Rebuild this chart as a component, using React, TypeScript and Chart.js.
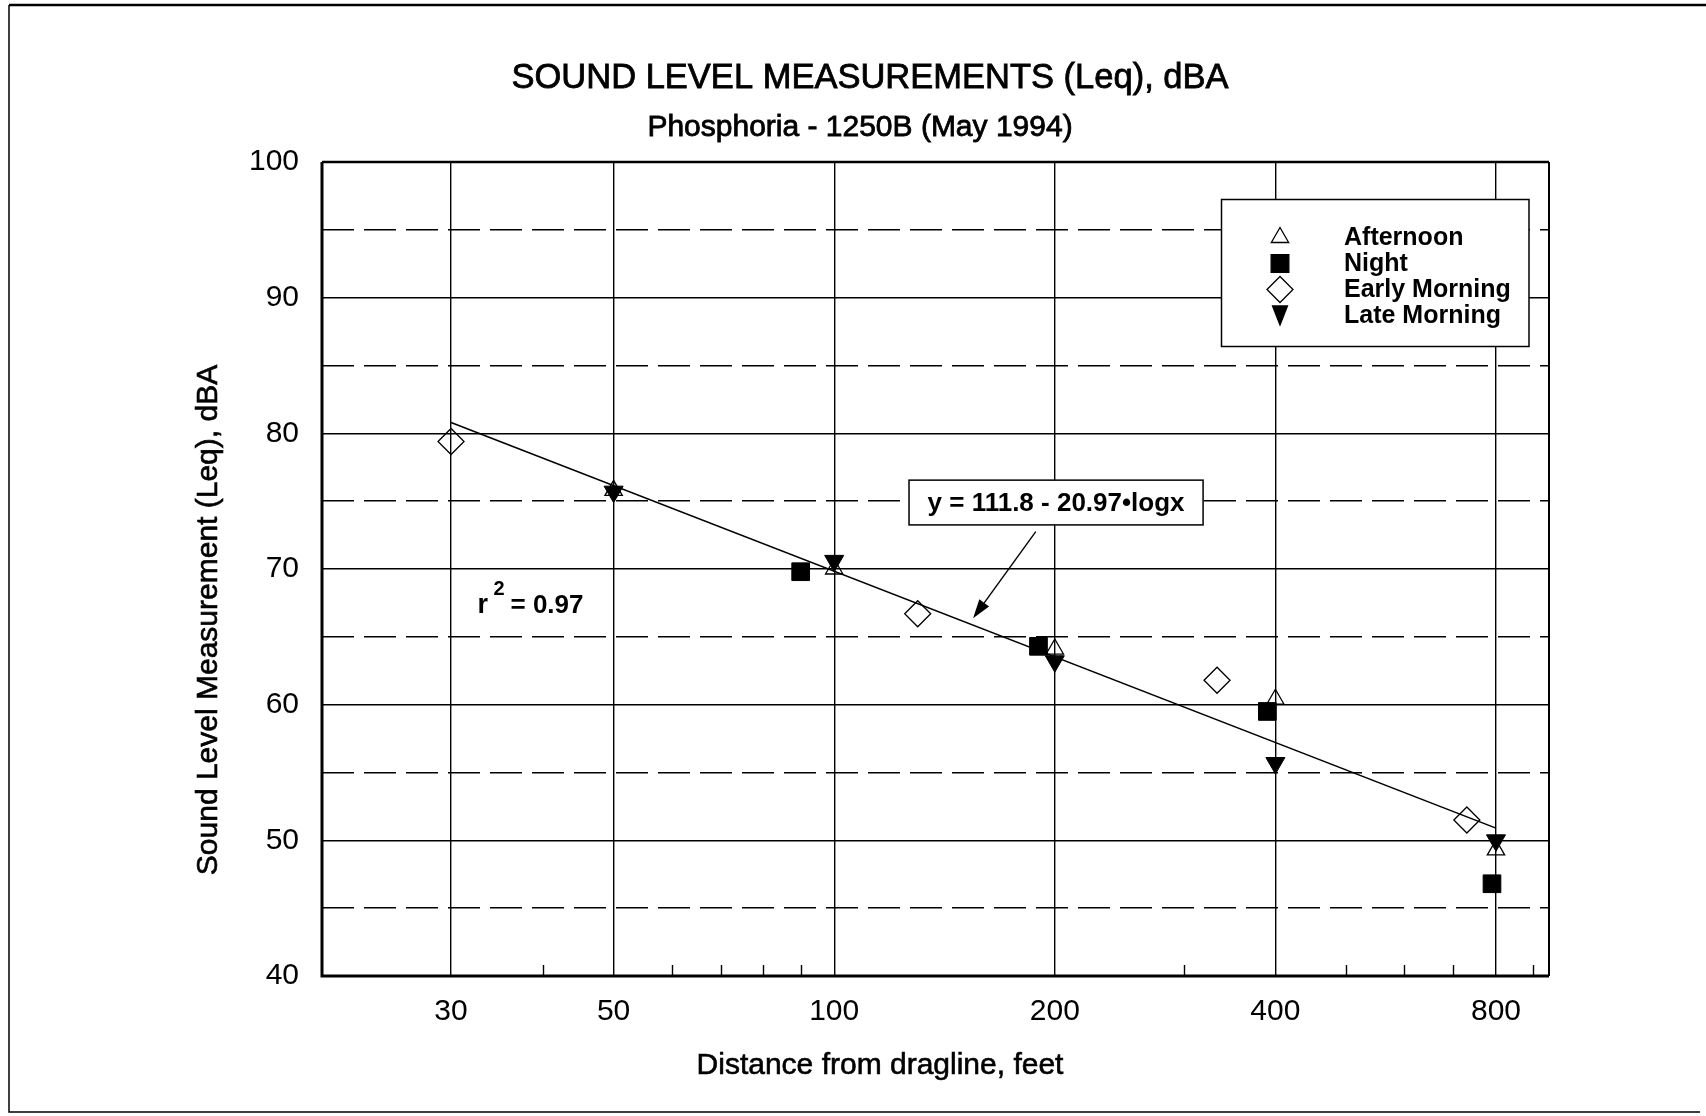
import React, { useEffect, useRef } from 'react';
import { Chart, registerables } from 'chart.js';

Chart.register(...registerables);

const FONT = "'Liberation Sans', Arial, Helvetica, sans-serif";

// ---------------- data ----------------
const SERIES_NAMES = ['Afternoon', 'Night', 'Early Morning', 'Late Morning'];

const afternoonX = [50, 100, 200, 400, 800];
const afternoonY = [75.8, 70.0, 64.1, 60.4, 49.3];

const nightX = [90, 190, 390, 790];
const nightY = [69.8, 64.3, 59.5, 46.8];

const earlyMorningX = [30, 130, 333, 730];
const earlyMorningY = [79.4, 66.7, 61.8, 51.5];

const lateMorningX = [50, 100, 200, 400, 800];
const lateMorningY = [75.7, 70.6, 63.2, 55.7, 50.0];

// regression line end points (as drawn)
const fitX = [30, 800];
const fitY = [80.8, 50.9];

const xMajorTicks = [30, 50, 100, 200, 400, 800];
const xMinorTicks = [40, 60, 70, 80, 90, 300, 500, 600, 700, 900];
const yTickValues = [40, 45, 50, 55, 60, 65, 70, 75, 80, 85, 90, 95, 100];
const yLabelStep = 10;

const TITLE = 'SOUND LEVEL MEASUREMENTS (Leq), dBA';
const SUBTITLE = 'Phosphoria - 1250B (May 1994)';
const X_TITLE = 'Distance from dragline, feet';
const Y_TITLE = 'Sound Level Measurement (Leq), dBA';
const EQUATION = 'y = 111.8 - 20.97\u2022logx';
const R2_BASE = 'r';
const R2_SUP = '2';
const R2_VALUE = '= 0.97';

// ---------------- layout (not data) ----------------
const X_MIN = 20;
const X_MAX = 945;
const Y_MIN = 40;
const Y_MAX = 100;

const EQ_BOX = { x1: 126.5, x2: 318.7, yTop: 76.55, yBottom: 73.25 };
const ARROW = { fromX: 188.4, fromY: 72.75, toX: 154.7, toY: 66.37 };
const R2_AT = { x: 32.6, y: 66.76 };

const pts = (xs: number[], ys: number[]) => xs.map((x, i) => ({ x, y: ys[i] }));

type MarkerSpec = { style: string; r: number; rot: number; fill: string; w?: number; h?: number };
const LEGEND_MARKERS: MarkerSpec[] = [
  { style: 'triangle', r: 10, rot: 0, fill: '#fff' },
  { style: 'rect', r: 12.5, rot: 0, fill: '#000' },
  { style: 'rectRot', r: 13, rot: 0, fill: '#fff' },
  { style: 'tri', r: 0, rot: 180, fill: '#000', w: 15, h: 19 },
];

function drawMarker(ctx: CanvasRenderingContext2D, m: MarkerSpec, x: number, y: number) {
  ctx.beginPath();
  if (m.style === 'triangle') {
    let rad = (m.rot * Math.PI) / 180;
    ctx.moveTo(x + Math.sin(rad) * m.r, y - Math.cos(rad) * m.r);
    for (let k = 0; k < 2; k++) {
      rad += (2 * Math.PI) / 3;
      ctx.lineTo(x + Math.sin(rad) * m.r, y - Math.cos(rad) * m.r);
    }
  } else if (m.style === 'rect') {
    const s = Math.SQRT1_2 * m.r;
    ctx.rect(x - s, y - s, 2 * s, 2 * s);
  } else if (m.style === 'rectRot') {
    ctx.moveTo(x - m.r, y);
    ctx.lineTo(x, y - m.r);
    ctx.lineTo(x + m.r, y);
    ctx.lineTo(x, y + m.r);
  } else {
    const w = m.w || 14;
    const h = m.h || 18;
    ctx.moveTo(x - w / 2, y - h / 2);
    ctx.lineTo(x + w / 2, y - h / 2);
    ctx.lineTo(x, y + h / 2);
  }
  ctx.closePath();
  ctx.fillStyle = m.fill;
  ctx.fill();
  ctx.lineWidth = 1.3;
  ctx.strokeStyle = '#000';
  ctx.stroke();
}

function heavyText(ctx: CanvasRenderingContext2D, text: string, x: number, y: number, stroke: number) {
  ctx.fillText(text, x, y);
  if (stroke > 0) {
    ctx.lineWidth = stroke;
    ctx.strokeText(text, x, y);
  }
}

const decorPlugin = {
  id: 'decor',
  beforeDraw(chart: any) {
    const { ctx, width, height } = chart;
    ctx.save();
    ctx.fillStyle = '#fff';
    ctx.fillRect(0, 0, width, height);
    ctx.restore();
  },
  afterDatasetsDraw(chart: any) {
    const { ctx, chartArea: a } = chart;
    const xs = chart.scales.x;
    const ys = chart.scales.y;
    ctx.save();
    ctx.strokeStyle = '#000';
    ctx.fillStyle = '#000';

    // inward minor ticks on the bottom axis
    ctx.lineWidth = 1.4;
    xMinorTicks.forEach((v) => {
      const px = Math.round(xs.getPixelForValue(v)) + 0.5;
      ctx.beginPath();
      ctx.moveTo(px, a.bottom);
      ctx.lineTo(px, a.bottom - 11);
      ctx.stroke();
    });

    // plot frame
    ctx.lineWidth = 3;
    ctx.beginPath();
    ctx.moveTo(a.left, a.top);
    ctx.lineTo(a.left, a.bottom);
    ctx.lineTo(a.right, a.bottom);
    ctx.stroke();
    ctx.lineWidth = 2.5;
    ctx.beginPath();
    ctx.moveTo(a.left, a.top);
    ctx.lineTo(a.right, a.top);
    ctx.stroke();
    ctx.lineWidth = 2;
    ctx.beginPath();
    ctx.moveTo(a.right, a.top);
    ctx.lineTo(a.right, a.bottom);
    ctx.stroke();

    // equation box
    const bx1 = xs.getPixelForValue(EQ_BOX.x1);
    const bx2 = xs.getPixelForValue(EQ_BOX.x2);
    const by1 = ys.getPixelForValue(EQ_BOX.yTop);
    const by2 = ys.getPixelForValue(EQ_BOX.yBottom);
    ctx.fillStyle = '#fff';
    ctx.fillRect(bx1, by1, bx2 - bx1, by2 - by1);
    ctx.lineWidth = 1.5;
    ctx.strokeRect(bx1, by1, bx2 - bx1, by2 - by1);
    ctx.fillStyle = '#000';
    ctx.font = `bold 26px ${FONT}`;
    ctx.textAlign = 'center';
    ctx.textBaseline = 'middle';
    ctx.fillText(EQUATION, (bx1 + bx2) / 2, (by1 + by2) / 2 + 1);

    // arrow
    const ax1 = xs.getPixelForValue(ARROW.fromX);
    const ay1 = ys.getPixelForValue(ARROW.fromY);
    const ax2 = xs.getPixelForValue(ARROW.toX);
    const ay2 = ys.getPixelForValue(ARROW.toY);
    const ang = Math.atan2(ay2 - ay1, ax2 - ax1);
    const headLen = 19;
    const headHalf = 6;
    const bxh = ax2 - Math.cos(ang) * headLen;
    const byh = ay2 - Math.sin(ang) * headLen;
    ctx.lineWidth = 1.4;
    ctx.beginPath();
    ctx.moveTo(ax1, ay1);
    ctx.lineTo(bxh, byh);
    ctx.stroke();
    ctx.beginPath();
    ctx.moveTo(ax2, ay2);
    ctx.lineTo(bxh + Math.sin(ang) * headHalf, byh - Math.cos(ang) * headHalf);
    ctx.lineTo(bxh - Math.sin(ang) * headHalf, byh + Math.cos(ang) * headHalf);
    ctx.closePath();
    ctx.fill();

    // r^2 label
    const rx = xs.getPixelForValue(R2_AT.x);
    const ry = ys.getPixelForValue(R2_AT.y);
    ctx.textAlign = 'left';
    ctx.textBaseline = 'alphabetic';
    ctx.font = `bold 27px ${FONT}`;
    ctx.fillText(R2_BASE, rx, ry);
    ctx.font = `bold 20px ${FONT}`;
    ctx.fillText(R2_SUP, rx + 16, ry - 18);
    ctx.font = `bold 26px ${FONT}`;
    ctx.fillText(R2_VALUE, rx + 33, ry);

    // legend
    const lx = a.right - 327.5;
    const ly = a.top + 37.5;
    const lw = 307.5;
    const lh = 147;
    ctx.fillStyle = '#fff';
    ctx.fillRect(lx, ly, lw, lh);
    ctx.lineWidth = 1.5;
    ctx.strokeStyle = '#000';
    ctx.strokeRect(lx, ly, lw, lh);
    ctx.font = `bold 25px ${FONT}`;
    ctx.textBaseline = 'middle';
    ctx.textAlign = 'left';
    SERIES_NAMES.forEach((name, i) => {
      const rowY = ly + 38 + i * 26;
      drawMarker(ctx, LEGEND_MARKERS[i], lx + 58.5, rowY);
      ctx.fillStyle = '#000';
      ctx.fillText(name, lx + 122.5, rowY + 1);
    });

    ctx.restore();
  },
  afterDraw(chart: any) {
    const { ctx } = chart;
    ctx.save();
    ctx.fillStyle = '#000';
    ctx.strokeStyle = '#000';
    ctx.textAlign = 'center';
    ctx.textBaseline = 'alphabetic';

    ctx.font = `34.5px ${FONT}`;
    heavyText(ctx, TITLE, 870, 88, 0.8);
    ctx.font = `30px ${FONT}`;
    heavyText(ctx, SUBTITLE, 860, 136, 0.8);
    ctx.font = `30px ${FONT}`;
    heavyText(ctx, X_TITLE, 880, 1074, 0.6);

    ctx.save();
    ctx.translate(209, 620);
    ctx.rotate(-Math.PI / 2);
    ctx.textBaseline = 'middle';
    ctx.font = `30px ${FONT}`;
    heavyText(ctx, Y_TITLE, 0, 0, 0.6);
    ctx.restore();

    // outer page frame
    ctx.lineWidth = 2.5;
    ctx.beginPath();
    ctx.moveTo(9, 5);
    ctx.lineTo(1706, 5);
    ctx.stroke();
    ctx.lineWidth = 1.5;
    ctx.beginPath();
    ctx.moveTo(9, 5);
    ctx.lineTo(9, 1112);
    ctx.lineTo(1700, 1112);
    ctx.stroke();
    ctx.restore();
  },
};

export default function App() {
  const ref = useRef<HTMLCanvasElement>(null);

  useEffect(() => {
    const canvas = ref.current;
    if (!canvas) return;
    const chart = new Chart(canvas, {
      type: 'scatter',
      data: {
        datasets: [
          {
            label: SERIES_NAMES[0],
            data: pts(afternoonX, afternoonY),
            pointStyle: 'triangle',
            pointRadius: 10,
            pointBackgroundColor: 'rgba(255,255,255,0)',
            pointBorderColor: '#000',
            pointBorderWidth: 1.3,
          },
          {
            label: SERIES_NAMES[1],
            data: pts(nightX, nightY),
            pointStyle: 'rect',
            pointRadius: 12.5,
            pointBackgroundColor: '#000',
            pointBorderColor: '#000',
            pointBorderWidth: 1,
          },
          {
            label: SERIES_NAMES[2],
            data: pts(earlyMorningX, earlyMorningY),
            pointStyle: 'rectRot',
            pointRadius: 13,
            pointBackgroundColor: 'rgba(255,255,255,0)',
            pointBorderColor: '#000',
            pointBorderWidth: 1.3,
          },
          {
            label: SERIES_NAMES[3],
            data: pts(lateMorningX, lateMorningY),
            pointStyle: 'triangle',
            pointRotation: 180,
            pointRadius: 11,
            pointBackgroundColor: '#000',
            pointBorderColor: '#000',
            pointBorderWidth: 1,
          },
          {
            type: 'line',
            label: 'fit',
            data: pts(fitX, fitY),
            borderColor: '#000',
            borderWidth: 1.6,
            pointRadius: 0,
            fill: false,
            tension: 0,
          } as any,
        ],
      },
      options: {
        animation: false,
        responsive: false,
        devicePixelRatio: 1,
        events: [],
        layout: { padding: { top: 162, right: 157, bottom: 0, left: 0 } },
        plugins: {
          legend: { display: false },
          tooltip: { enabled: false },
          title: { display: false },
        },
        scales: {
          x: {
            type: 'logarithmic',
            min: X_MIN,
            max: X_MAX,
            afterBuildTicks: (s: any) => {
              s.ticks = xMajorTicks.map((v) => ({ value: v }));
            },
            afterFit: (s: any) => {
              s.height = 140;
            },
            ticks: {
              autoSkip: false,
              maxRotation: 0,
              minRotation: 0,
              padding: 18,
              color: '#000',
              font: { family: FONT, size: 30 },
              callback: (v: any) => String(v),
            },
            grid: { color: '#000', lineWidth: 1.4, drawTicks: false },
            border: { display: false },
          },
          y: {
            type: 'linear',
            min: Y_MIN,
            max: Y_MAX,
            afterBuildTicks: (s: any) => {
              s.ticks = yTickValues.map((v) => ({ value: v }));
            },
            afterFit: (s: any) => {
              s.width = 322;
            },
            ticks: {
              autoSkip: false,
              padding: 23,
              color: '#000',
              font: { family: FONT, size: 30 },
              callback: (v: any) => (Number(v) % yLabelStep === 0 ? String(v) : ''),
            },
            grid: { color: '#000', lineWidth: 1.4, drawTicks: false },
            border: {
              display: false,
              dash: (c: any) => (c && c.tick && c.tick.value % yLabelStep !== 0 ? [32, 10] : []),
            },
          },
        },
      } as any,
      plugins: [decorPlugin],
    });
    return () => chart.destroy();
  }, []);

  return (
    <div style={{ position: 'absolute', left: 0, top: 0, width: 1706, height: 1116, background: '#fff' }}>
      <canvas ref={ref} width={1706} height={1116} style={{ display: 'block', width: 1706, height: 1116 }} />
    </div>
  );
}
